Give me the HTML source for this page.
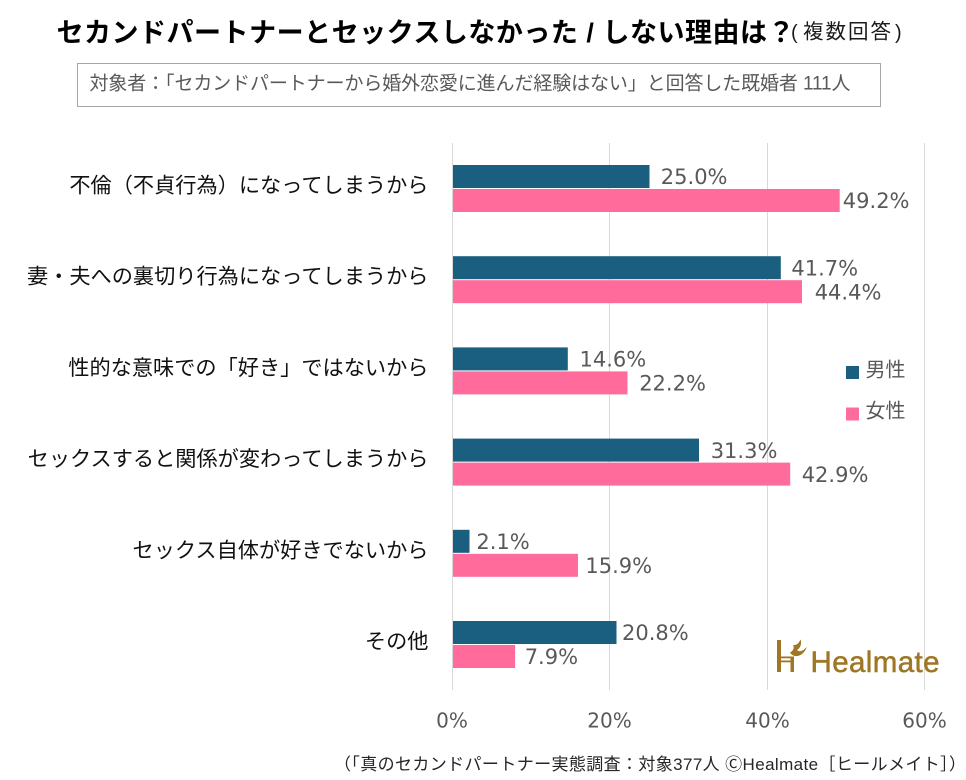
<!DOCTYPE html>
<html>
<head>
<meta charset="utf-8">
<style>
  html,body{margin:0;padding:0;background:#fff;}
  body{width:966px;height:780px;overflow:hidden;}
  svg{display:block;}
  .jp{font-family:"Liberation Sans","Noto Sans CJK JP",sans-serif;}
  .num{font-family:"DejaVu Sans","Liberation Sans",sans-serif;}
</style>
</head>
<body>
<svg width="966" height="780" viewBox="0 0 966 780" xmlns="http://www.w3.org/2000/svg">
  <rect width="966" height="780" fill="#fff"/>

  <!-- Title -->
  <text class="jp" x="56.5" y="42" font-size="27" font-weight="bold" fill="#000" textLength="738">セカンドパートナーとセックスしなかった / しない理由は？</text>
  <text x="791" y="39" font-family="Liberation Sans, sans-serif" font-size="20" fill="#1a1a1a">(</text>
  <text class="jp" x="803" y="38.5" font-size="20.5" fill="#1a1a1a" textLength="88">複数回答</text>
  <text x="895" y="39" font-family="Liberation Sans, sans-serif" font-size="20" fill="#1a1a1a">)</text>

  <!-- Subtitle box -->
  <rect x="77.5" y="63.5" width="803" height="43" fill="#fff" stroke="#a6a6a6" stroke-width="1"/>
  <text class="jp" x="89.5" y="89.5" font-size="19" fill="#595959" textLength="761">対象者：「セカンドパートナーから婚外恋愛に進んだ経験はない」と回答した既婚者 111人</text>

  <!-- Gridlines -->
  <g stroke="#d9d9d9" stroke-width="1">
    <line x1="452.5" y1="143" x2="452.5" y2="690"/>
    <line x1="609.5" y1="143" x2="609.5" y2="690"/>
    <line x1="767.5" y1="143" x2="767.5" y2="690"/>
    <line x1="924.5" y1="143" x2="924.5" y2="690"/>
  </g>

  <!-- Bars: male -->
  <g fill="#1a5f80">
    <rect x="453" y="165" width="196.5" height="23"/>
    <rect x="453" y="256.2" width="327.8" height="23"/>
    <rect x="453" y="347.4" width="114.8" height="23"/>
    <rect x="453" y="438.6" width="246.0" height="23"/>
    <rect x="453" y="529.8" width="16.5" height="23"/>
    <rect x="453" y="621" width="163.5" height="23"/>
  </g>
  <!-- Bars: female -->
  <g fill="#ff6b9b">
    <rect x="453" y="189" width="386.7" height="23"/>
    <rect x="453" y="280.2" width="349.0" height="23"/>
    <rect x="453" y="371.4" width="174.5" height="23"/>
    <rect x="453" y="462.6" width="337.2" height="23"/>
    <rect x="453" y="553.8" width="125.0" height="23"/>
    <rect x="453" y="645" width="62.1" height="23"/>
  </g>

  <!-- Value labels -->
  <g class="num" font-size="21" fill="#595959">
    <text x="660.8" y="184.2">25.0%</text>
    <text x="842.8" y="208.2">49.2%</text>
    <text x="791.4" y="275.4">41.7%</text>
    <text x="814.7" y="299.4">44.4%</text>
    <text x="579.5" y="366.6">14.6%</text>
    <text x="639.2" y="390.6">22.2%</text>
    <text x="710.7" y="457.8">31.3%</text>
    <text x="801.7" y="481.8">42.9%</text>
    <text x="476.4" y="549.0">2.1%</text>
    <text x="585.4" y="573.0">15.9%</text>
    <text x="622.0" y="640.2">20.8%</text>
    <text x="524.7" y="664.2">7.9%</text>
  </g>

  <!-- Category labels -->
  <g class="jp" font-size="21.2" fill="#111" text-anchor="end">
    <text x="428.5" y="192.5">不倫（不貞行為）になってしまうから</text>
    <text x="428.5" y="283.7">妻・夫への裏切り行為になってしまうから</text>
    <text x="428.5" y="374.9">性的な意味での「好き」ではないから</text>
    <text x="428.5" y="466.1">セックスすると関係が変わってしまうから</text>
    <text x="428.5" y="557.3">セックス自体が好きでないから</text>
    <text x="428.5" y="648.5">その他</text>
  </g>

  <!-- Axis tick labels -->
  <g class="num" font-size="20" fill="#595959" text-anchor="middle">
    <text x="452" y="727.5">0%</text>
    <text x="609.5" y="727.5">20%</text>
    <text x="767.5" y="727.5">40%</text>
    <text x="924.5" y="727.5">60%</text>
  </g>

  <!-- Legend -->
  <rect x="846" y="366" width="13" height="13" fill="#1a5f80"/>
  <text class="jp" x="865.5" y="376.6" font-size="20" fill="#595959">男性</text>
  <rect x="846" y="407.5" width="13" height="13" fill="#ff6b9b"/>
  <text class="jp" x="865.5" y="417.6" font-size="20" fill="#595959">女性</text>

  <!-- Logo -->
  <g fill="#9e7624">
    <rect x="777" y="640" width="4" height="32"/>
    <rect x="777" y="656.5" width="17" height="1.8"/>
    <rect x="777" y="660.5" width="17" height="1.8"/>
    <rect x="790.5" y="656.5" width="3.5" height="15.5"/>
    <path d="M790 652.5 C 793 658, 803 658, 807 646.5 C 803.5 651, 799 652.5, 797 650 C 800.5 648, 802 643.5, 800.5 639.5 C 798.5 644, 796 645.5, 793 645 C 794.5 648, 793.5 650.5, 790 652.5 Z"/>
  </g>
  <text x="810.5" y="672" font-family="Liberation Sans, sans-serif" font-size="29.5" fill="#9e7624" stroke="#9e7624" stroke-width="0.5" textLength="129">Healmate</text>

  <!-- Footer -->
  <text class="jp" x="334" y="770" font-size="17" fill="#262626" textLength="632">（「真のセカンドパートナー実態調査：対象377人 ⒸHealmate［ヒールメイト］）</text>
</svg>
</body>
</html>
